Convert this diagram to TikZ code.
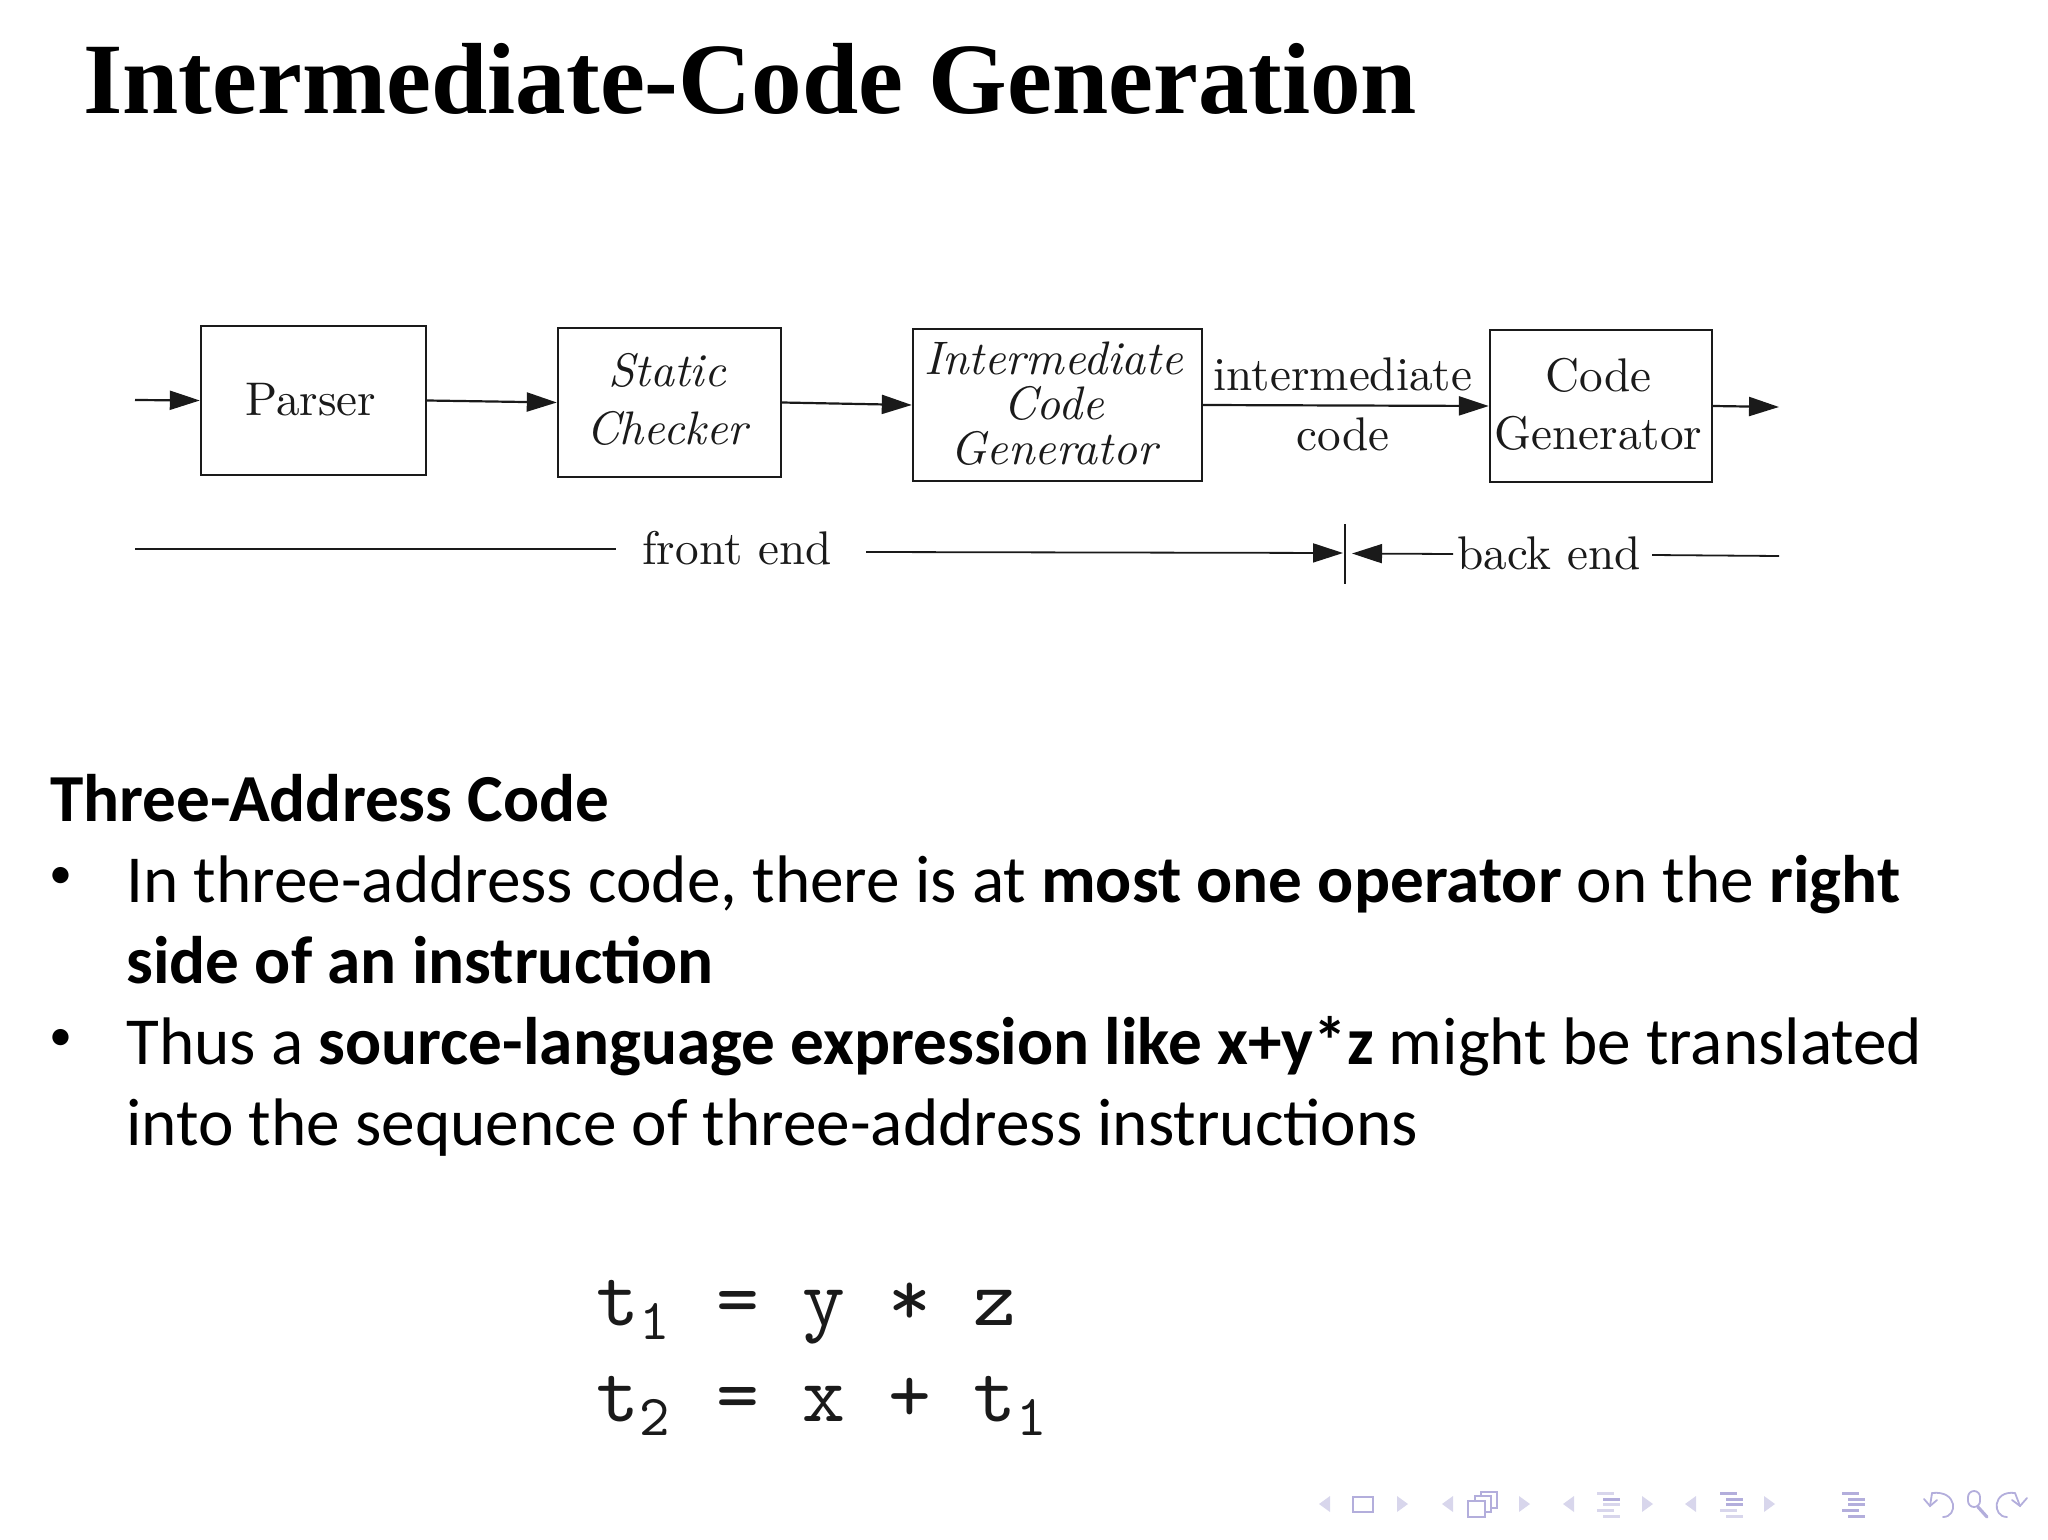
\documentclass[tikz,border=0pt]{standalone}
\usepackage{fontspec}
\usetikzlibrary{arrows.meta}
\newfontfamily\titlefont{Liberation Serif}
\newfontfamily\bodyfont{Carlito}
\newfontfamily\cmten{lmroman10-regular}[Extension=.otf,ItalicFont=lmroman10-italic]
\newfontfamily\cmmono{lmmono10-regular}[Extension=.otf]
\definecolor{navlight}{HTML}{D8D6EC}
\definecolor{navdark}{HTML}{B3AEDC}
\definecolor{ink}{HTML}{1A1A1A}
\tikzset{
  flowbox/.style={draw=ink,line width=1.2pt,inner sep=0pt},
  lbl/.style={inner sep=0pt,text=ink,align=center},
  romantxt/.style={font=\cmten\fontsize{23.6}{29}\selectfont},
  italtxt/.style={font=\cmten\itshape\fontsize{23.5}{29}\selectfont},
  flowarrow/.style={draw=ink,line width=1.1pt,-{Triangle[length=15pt,width=9.5pt]},shorten >=0pt},
  spanline/.style={draw=ink,line width=0.9pt},
  bodyline/.style={anchor=base west,inner sep=0pt,font=\bodyfont\fontsize{33.62}{40}\selectfont,text=black},
  bulletmark/.style={anchor=base west,inner sep=0pt,font=\bodyfont\fontsize{23}{24}\selectfont,text=black},
  eqline/.style={anchor=base west,inner sep=0pt,font=\cmmono\fontsize{40.8}{40.8}\selectfont,text=ink},
  navtri/.style={fill=navlight,draw=none},
  navsq/.style={draw=navdark,line width=0.9pt,fill=white},
  navcurve/.style={draw=navdark,line width=0.9pt,line cap=round}
}
\newcommand{\navL}[1]{\fill[navtri] (#1,1496) -- (#1,1512) -- ({#1-11},1504) -- cycle;}
\newcommand{\navR}[1]{\fill[navtri] (#1,1496) -- (#1,1512) -- ({#1+11},1504) -- cycle;}
\newcommand{\navbar}[3]{\fill[#3] (#1,#2) rectangle ++(17,3.2);}
\newcommand{\navbars}[6]{%
  \navbar{#1}{1491.5}{#2}\navbar{#1+6}{1497.5}{#3}\navbar{#1+6}{1503}{#4}%
  \navbar{#1}{1508.5}{#5}\navbar{#1+6}{1514.5}{#6}}
\newcommand{\eqsub}[1]{\raisebox{-7pt}{\fontsize{29}{29}\selectfont #1}}
\begin{document}
\begin{tikzpicture}[x=0.5pt,y=-0.5pt]
\useasboundingbox (0,0) rectangle (2048,1540);
% title
\node[anchor=base west,inner sep=0pt,font=\titlefont\bfseries\fontsize{50.55}{55}\selectfont] (title) at (83,114) {Intermediate-Code Generation};
% flow boxes
\node[flowbox,minimum width=112.5pt,minimum height=74.5pt,label={[lbl,romantxt,xshift=-1.3pt,yshift=0.65pt]center:{Parser}}] (parser) at (313.5,400.5) {};
\node[flowbox,minimum width=111.5pt,minimum height=74.5pt,label={[lbl,italtxt,xshift=-1.3pt,yshift=1.5pt]center:{Static\\Checker}}] (static) at (669.5,402.5) {};
\node[flowbox,minimum width=144.5pt,minimum height=76pt,label={[lbl,font=\cmten\itshape\fontsize{23.5}{22.3}\selectfont,xshift=-2pt,yshift=0.65pt]center:{Intermediate\\Code\\Generator}}] (icg) at (1057.5,405) {};
\node[flowbox,minimum width=111pt,minimum height=76pt,label={[lbl,romantxt,xshift=-1.3pt,yshift=0.8pt]center:{Code\\Generator}}] (cg) at (1601,406) {};
\coordinate (inp) at (135,400);
\coordinate (outp) at (1779,407);
\draw[flowarrow] (inp) -- (parser.west);
\draw[flowarrow] (parser.east) -- (static.west);
\draw[flowarrow] (static.east) -- (icg.west);
\draw[flowarrow] (icg.east) -- (cg.west);
\draw[flowarrow] (cg.east) -- (outp);
\node[lbl,romantxt] (ilabel) at (1343,404) {intermediate\\[1pt]code};
% span line
\node[lbl,romantxt] (front) at (737,548) {front end};
\node[lbl,romantxt] (back) at (1549,553) {back end};
\coordinate (fstart) at (135,549);
\coordinate (fe1) at (616,549);
\coordinate (fe2) at (866,552);
\coordinate (be1) at (1453,554);
\coordinate (be2) at (1652,555);
\coordinate (splitl) at (1343,553);
\coordinate (splitr) at (1352,553.5);
\coordinate (splittop) at (1345,524);
\coordinate (splitbot) at (1345,584);
\coordinate (bend) at (1779,556);
\draw[spanline] (fstart) -- (fe1);
\draw[flowarrow,line width=0.9pt] (fe2) -- (splitl);
\draw[flowarrow,line width=0.9pt] (be1) -- (splitr);
\draw[spanline] (be2) -- (bend);
\draw[draw=ink,line width=0.8pt] (splittop) -- (splitbot);
% body text
\node[bodyline] (h) at (50,821) {\bfseries Three-Address Code};
\node[bulletmark] (b1) at (49,888) {•};
\node[bodyline] (l1) at (126,902) {In three-address code, there is at \textbf{most one operator} on the \textbf{right}};
\node[bodyline] (l2) at (126,983) {\textbf{side of an instruction}};
\node[bulletmark] (b2) at (49,1050) {•};
\node[bodyline] (l3) at (126,1064) {Thus a \textbf{source-language expression like x+y*z} might be translated};
\node[bodyline] (l4) at (126,1145) {into the sequence of three-address instructions};
% equations
\node[eqline] (e1) at (596,1325) {t\eqsub{1}\hspace{23.5pt}= y * z};
\node[eqline] (e2) at (596,1421) {t\eqsub{2}\hspace{23.5pt}= x + t\eqsub{1}};
% navigation symbols
\navL{1330}
\draw[navsq] (1353,1497) rectangle (1373,1512);
\navR{1397}
\navL{1453}
\draw[navsq] (1481,1492) rectangle (1497,1508);
\draw[navsq] (1475,1496) rectangle (1491,1512);
\draw[navsq] (1468,1501) rectangle (1485,1517);
\navR{1519}
\navL{1574}
\navbars{1597}{navlight}{navdark}{navlight}{navlight}{navlight}
\navR{1642}
\navL{1696}
\navbars{1720}{navdark}{navdark}{navdark}{navlight}{navlight}
\navR{1764}
\navbars{1842}{navdark}{navdark}{navdark}{navdark}{navdark}
% undo
\draw[navcurve] (1932,1493) .. controls (1958,1490) and (1958,1517) .. (1943,1517);
\draw[navcurve] (1932,1493) -- (1930,1506);
\draw[navcurve] (1924,1499) -- (1930,1506) -- (1937,1500);
% search
\draw[navcurve,rounded corners=3pt] (1968,1491) rectangle (1980,1507);
\draw[navcurve,line width=1.6pt] (1978,1507) -- (1987,1517);
% redo
\draw[navcurve] (2015,1493) .. controls (1992,1490) and (1992,1517) .. (2007,1517);
\draw[navcurve] (2015,1493) -- (2020,1506);
\draw[navcurve] (2012,1500) -- (2020,1506) -- (2027,1498);
\end{tikzpicture}
\end{document}
